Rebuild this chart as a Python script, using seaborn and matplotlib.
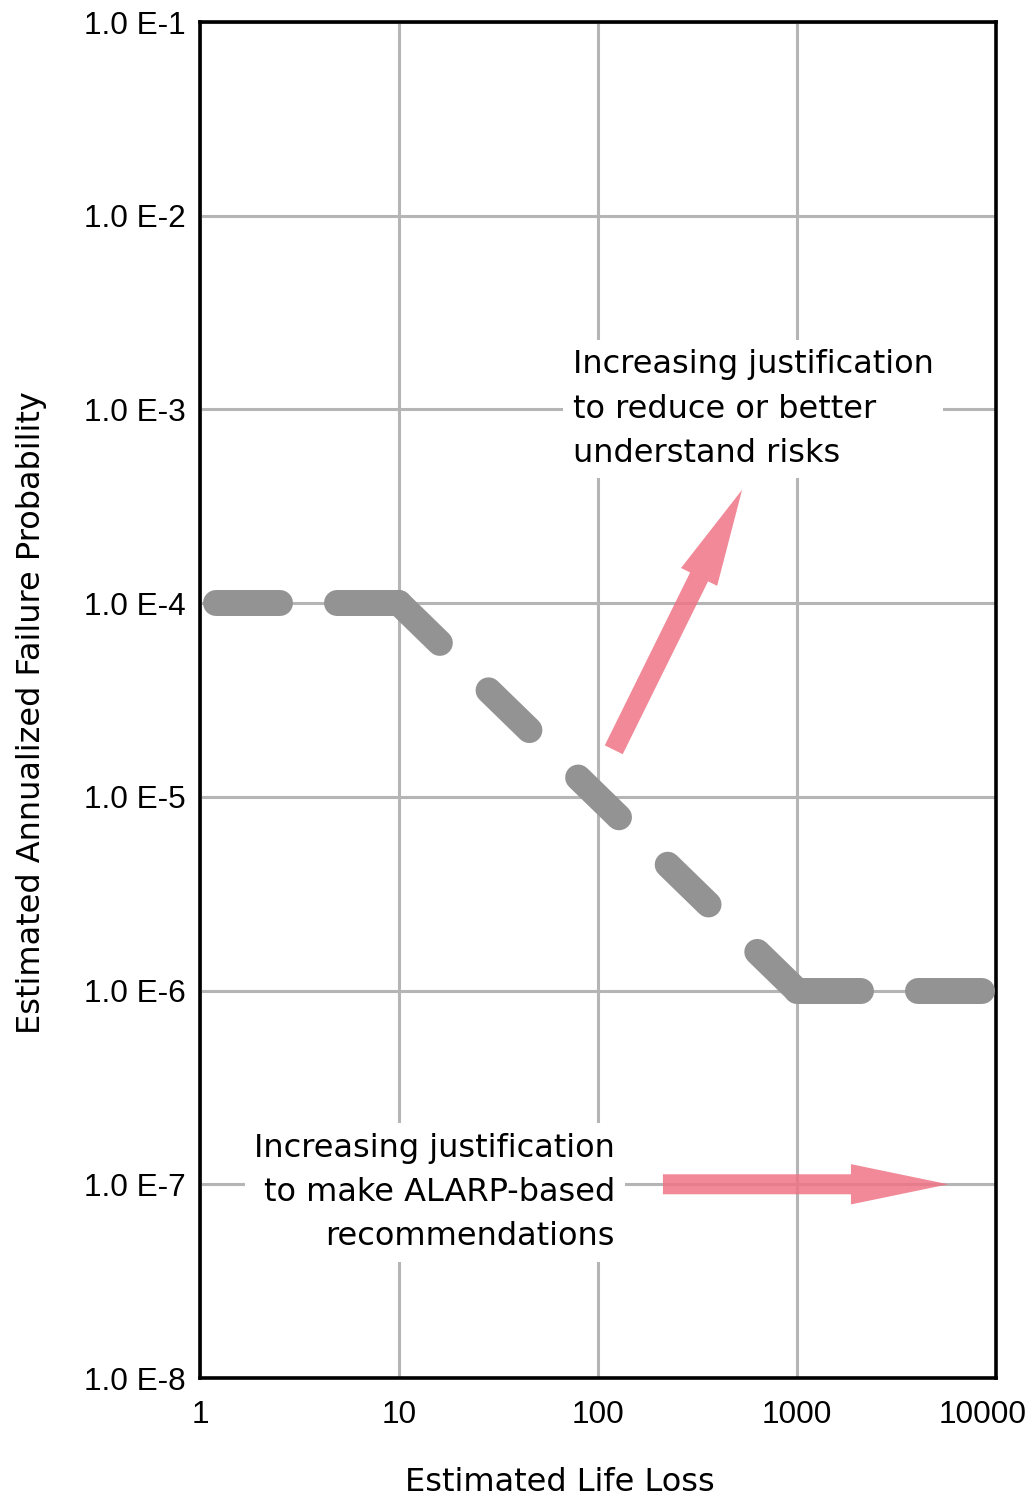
import matplotlib
matplotlib.use("Agg")
import matplotlib.pyplot as plt
import matplotlib.transforms as mtransforms
from matplotlib.patches import FancyArrowPatch
import seaborn as sns
import pandas as pd

# --- data ---
x_ticks = [1, 10, 100, 1000, 10000]
y_ticks = [1e-8, 1e-7, 1e-6, 1e-5, 1e-4, 1e-3, 1e-2, 1e-1]
y_tick_labels = ["1.0 E-8", "1.0 E-7", "1.0 E-6", "1.0 E-5",
                 "1.0 E-4", "1.0 E-3", "1.0 E-2", "1.0 E-1"]

# criterion line, three pieces
seg_x = [[1, 10], [10, 1000], [1000, 10000]]
seg_y = [[1e-4, 1e-4], [1e-4, 1e-6], [1e-6, 1e-6]]

# annotation arrows (tail, tip)
arrow_up = [(120, 1.75e-5), (530, 3.85e-4)]
arrow_right = [(212, 1e-7), (5750, 1e-7)]

note_up = "Increasing justification\nto reduce or better\nunderstand risks"
note_right = "Increasing justification\nto make ALARP-based\nrecommendations"

# --- style ---
sns.set_style("white")
plt.rcParams["font.family"] = ["DejaVu Sans"]
plt.rcParams["text.color"] = "black"
plt.rcParams["axes.labelcolor"] = "black"
plt.rcParams["lines.scale_dashes"] = False
plt.rcParams["lines.dash_capstyle"] = "round"
plt.rcParams["lines.solid_capstyle"] = "round"

fig = plt.figure(figsize=(10.35, 15.01), dpi=100)
ax = fig.add_axes([200 / 1035, 1 - 1378 / 1501, 796 / 1035, 1356 / 1501])
ax.set_xscale("log")
ax.set_yscale("log")
ax.set_xlim(1, 10000)
ax.set_ylim(1e-8, 1e-1)

ax.set_xticks(x_ticks)
ax.set_xticklabels([str(v) for v in x_ticks])
ax.set_yticks(y_ticks)
ax.set_yticklabels(y_tick_labels)
ax.minorticks_off()
ax.grid(True, which="major", color="#b5b5b5", linewidth=2.2)
ax.set_axisbelow(True)
for s in ax.spines.values():
    s.set_color("black")
    s.set_linewidth(2.6)
ax.tick_params(axis="both", length=0, labelsize=22.7, colors="black")
ax.tick_params(axis="y", pad=10.5)
ax.tick_params(axis="x", pad=16)
for lab in ax.get_xticklabels() + ax.get_yticklabels():
    lab.set_fontfamily("Liberation Sans")
last = ax.get_xticklabels()[-1]
last.set_transform(last.get_transform() +
                   mtransforms.ScaledTranslation(-0.13, 0, fig.dpi_scale_trans))

# dashed criterion line
lw_px = 26
px = 0.72  # px -> pt at 100 dpi
styles = [
    (105 * px, (64 * px, 57 * px)),
    (0, (57 * px, 68 * px)),
    (0, (64 * px, 57 * px)),
]
for xs, ys, ls in zip(seg_x, seg_y, styles):
    df = pd.DataFrame({"x": xs, "y": ys})
    sns.lineplot(data=df, x="x", y="y", ax=ax, color="#939393",
                 linewidth=lw_px * px, zorder=3)
    line = ax.lines[-1]
    line.set_linestyle(ls)
    line.set_dash_capstyle("round")

# arrows
for (p0, p1) in [arrow_up, arrow_right]:
    arr = FancyArrowPatch(p0, p1, arrowstyle="simple,head_length=70,head_width=29,tail_width=14.4",
                          mutation_scale=1, color="#ef7486", alpha=0.85,
                          shrinkA=0, shrinkB=0, zorder=4, linewidth=0)
    ax.add_patch(arr)

# notes
ax.text(0.4686, 0.7145, note_up, transform=ax.transAxes, ha="left", va="center",
        fontsize=23, linespacing=1.55, color="black", zorder=5,
        bbox=dict(boxstyle="square,pad=0.3", fc="white", ec="none"))
ax.text(0.5214, 0.137, note_right, transform=ax.transAxes, ha="right", va="center",
        multialignment="right", fontsize=23, linespacing=1.55, color="black", zorder=5,
        bbox=dict(boxstyle="square,pad=0.3", fc="white", ec="none"))

ax.set_xlabel("Estimated Life Loss", fontsize=23)
ax.set_ylabel("Estimated Annualized Failure Probability", fontsize=23)
ax.xaxis.set_label_coords(0.452, -0.066)
ax.yaxis.set_label_coords(-0.192, 0.491)

fig.savefig("out.png", dpi=100)
